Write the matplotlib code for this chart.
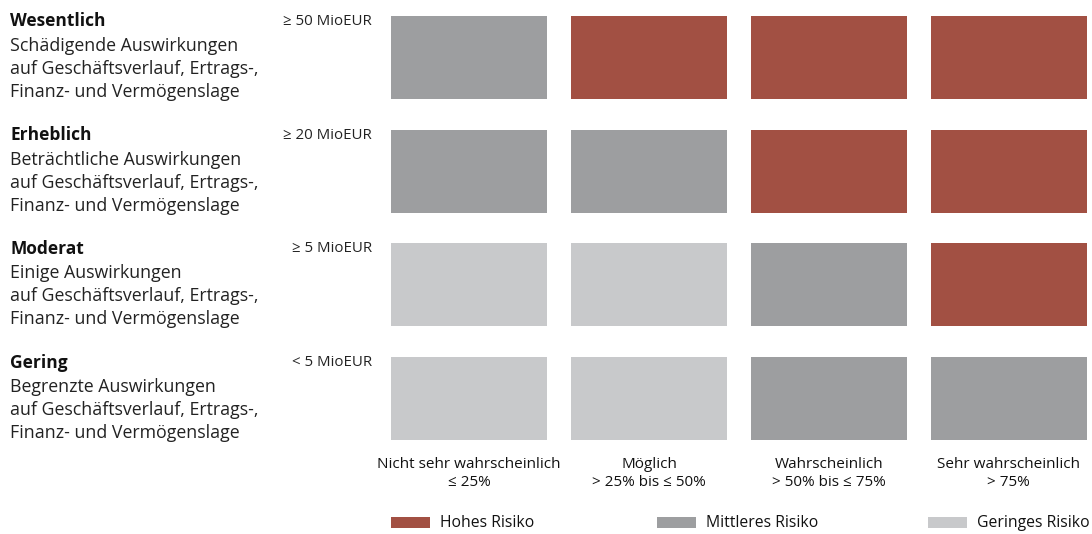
import numpy as np
import matplotlib
matplotlib.use("Agg")
import matplotlib.pyplot as plt
from matplotlib.patches import Rectangle

# ---- Data ----
ROW_TITLES = ["Wesentlich", "Erheblich", "Moderat", "Gering"]
ROW_DESCS = ["Schädigende Auswirkungen", "Beträchtliche Auswirkungen",
             "Einige Auswirkungen", "Begrenzte Auswirkungen"]
ROW_DESC_TAIL = "auf Geschäftsverlauf, Ertrags-,\nFinanz- und Vermögenslage"
THRESHOLDS = ["≥ 50 MioEUR", "≥ 20 MioEUR", "≥ 5 MioEUR", "< 5 MioEUR"]
COL_LABELS = ["Nicht sehr wahrscheinlich\n≤ 25%", "Möglich\n> 25% bis ≤ 50%",
              "Wahrscheinlich\n> 50% bis ≤ 75%", "Sehr wahrscheinlich\n> 75%"]
# 2 = hohes, 1 = mittleres, 0 = geringes Risiko
RISK = [[1, 2, 2, 2],
        [1, 1, 2, 2],
        [0, 0, 1, 2],
        [0, 0, 1, 1]]
LEGEND_LABELS = ["Hohes Risiko", "Mittleres Risiko", "Geringes Risiko"]
COLORS = {2: "#A25043", 1: "#9D9EA0", 0: "#C8C9CB"}

W, H = 1092, 534
plt.rcParams["font.family"] = ["Open Sans", "DejaVu Sans"]
fig = plt.figure(figsize=(W / 100, H / 100), dpi=100)

def px(x, y):
    return x / W, 1 - y / H

# ---- Matrix ----
cw, ch = 0.869, 0.73
left, top, right, bottom = 391, 16, 1087, 440
ax = fig.add_axes([left / W, 1 - bottom / H, (right - left) / W, (bottom - top) / H])
for r, row in enumerate(RISK):
    for c, lvl in enumerate(row):
        ax.add_patch(Rectangle((c, r), cw, ch, facecolor=COLORS[lvl], edgecolor="none"))
ax.set_xlim(0, 3 + cw)
ax.set_ylim(3 + ch, 0)
ax.axis("off")

# ---- Row labels ----
row_pitch = 113.7
for r in range(4):
    y0 = 21.5 + r * row_pitch
    fig.text(*px(10, y0), ROW_TITLES[r], fontsize=12.5, fontweight="bold",
             va="center", ha="left", color="#111111")
    for k, line in enumerate([ROW_DESCS[r]] + ROW_DESC_TAIL.split("\n")):
        fig.text(*px(10, y0 + 24.5 + k * 23), line, fontsize=12.8,
                 va="center", ha="left", color="#222222")
    fig.text(*px(372, y0), THRESHOLDS[r], fontsize=10.8, va="center", ha="right",
             color="#222222")

# ---- Column labels ----
for c, lab in enumerate(COL_LABELS):
    xc = left + (c + cw / 2) * (right - left) / (3 + cw)
    for k, line in enumerate(lab.split("\n")):
        fig.text(*px(xc, 464 + k * 18), line, fontsize=11, va="center", ha="center",
                 color="#111111")

# ---- Legend ----
leg_x = [391, 657, 928]
for lvl, x0, lab in zip([2, 1, 0], leg_x, LEGEND_LABELS):
    fig.patches.append(Rectangle(px(x0, 528), 39 / W, 11 / H, facecolor=COLORS[lvl],
                                 edgecolor="none", transform=fig.transFigure))
    fig.text(*px(x0 + 49, 523), lab, fontsize=11.3, va="center", ha="left",
             color="#111111")

fig.savefig("out.png", dpi=100, facecolor="white")
